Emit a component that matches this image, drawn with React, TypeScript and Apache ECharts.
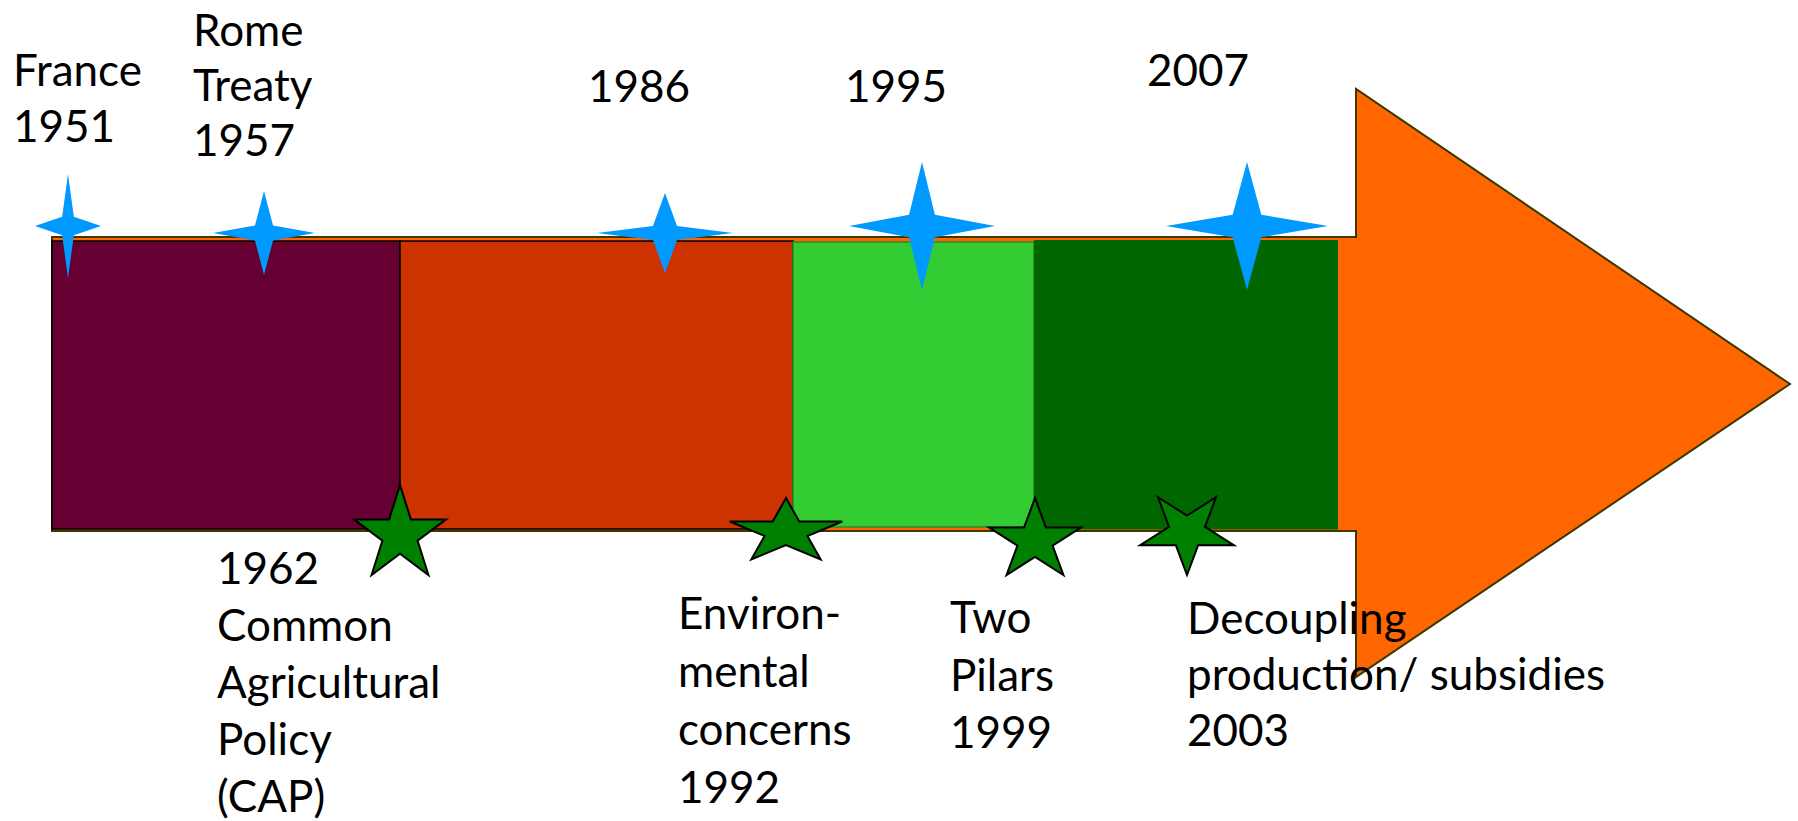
import React, { useEffect, useRef } from "react";
import * as echarts from "echarts";

// Drawing area in timeline units (hidden linear axes, 1 unit = 1 px)
const AXIS_W = 1798;
const AXIS_H = 821;

// Arrow outline: tail, neck, tip (x) and head top, body top, centre, body bottom, head bottom (y)
const arrowXs = [52, 1356, 1790];
const arrowYs = [89, 237, 384, 531, 677];

// CAP phases along the arrow
const phaseNames = ["1951-1962", "1962-1992", "1992-1999", "1999-2007"];
const phaseStart = [52, 400, 793, 1034];
const phaseEnd = [400, 793, 1034, 1338];
const phaseTop = [241, 241, 242, 240];
const phaseBottom = [529, 529, 527, 529.5];

// Top events (blue four-point stars)
const topLabels = ["France\n1951", "Rome\nTreaty\n1957", "1986", "1995", "2007"];
const topX = [68, 264, 665, 922, 1247];
const topY = [226, 233, 233, 226, 226];
const topHalfW = [33, 51, 68, 73, 81];
const topHalfH = [52, 42, 40, 64, 64];
const topLabelX = [13, 193, 588, 845, 1147];
const topLabelBaseline = [85, 45, 101, 101, 85];
const topLabelStep = [56, 55, 57, 57, 57];

// Bottom events (green five-point stars)
const bottomLabels = [
  "1962\nCommon\nAgricultural\nPolicy\n(CAP)",
  "Environ-\nmental\nconcerns\n1992",
  "Two\nPilars\n1999",
  "Decoupling\nproduction/ subsidies\n2003",
];
const bottomX = [400, 786, 1035, 1187];
const bottomY = [534.75, 532, 540.6, 532];
const bottomRx = [48.4, 59, 48.4, 49.4];
const bottomRy = [49.75, 34, 42.6, 43];
const bottomInverted = [0, 0, 0, 1];
const bottomLabelX = [217, 678, 950, 1187];
const bottomLabelBaseline = [583, 628, 632, 633];
const bottomLabelStep = [57, 58, 57.5, 56];

const phaseColors = ["#660033", "#CC3300", "#33CC33", "#006600"];
const phaseStrokes = ["#000000", "#000000", "#2a8a2a", null];
const FONT = "Lato";
const FONT_SIZE = 44;
const BASELINE_OFFSET = FONT_SIZE / 2 + 0.36 * FONT_SIZE;

export default function App() {
  const ref = useRef<HTMLDivElement>(null);

  useEffect(() => {
    document.body.style.margin = "0";
    if (!ref.current) return;
    const chart = echarts.init(ref.current, undefined, { renderer: "svg" });

    const arrowData = [[arrowXs[0], arrowYs[2]]];
    const phaseData = phaseNames.map((n, i) => [phaseStart[i], phaseEnd[i], phaseTop[i], phaseBottom[i], i]);
    const topStarData = topX.map((x, i) => [x, topY[i], topHalfW[i], topHalfH[i]]);
    const bottomStarData = bottomX.map((x, i) => [x, bottomY[i], bottomRx[i], bottomRy[i], bottomInverted[i]]);
    const labelData: any[] = [
      ...topLabels.map((t, i) => ({ value: [topLabelX[i], topLabelBaseline[i], topLabelStep[i]], text: t })),
      ...bottomLabels.map((t, i) => ({ value: [bottomLabelX[i], bottomLabelBaseline[i], bottomLabelStep[i]], text: t })),
    ];

    chart.setOption({
      animation: false,
      backgroundColor: "#ffffff",
      grid: { left: 0, right: 0, top: 0, bottom: 0 },
      xAxis: { type: "value", min: 0, max: AXIS_W, show: false },
      yAxis: { type: "value", min: 0, max: AXIS_H, inverse: true, show: false },
      series: [
        {
          type: "custom",
          name: "arrow",
          z: 1,
          clip: false,
          data: arrowData,
          renderItem: (_p: any, api: any) => {
            const [tail, neck, tip] = arrowXs;
            const [hTop, bTop, mid, bBot, hBot] = arrowYs;
            const pts = [
              [tail, bTop], [neck, bTop], [neck, hTop], [tip, mid],
              [neck, hBot], [neck, bBot], [tail, bBot],
            ].map((p) => api.coord(p));
            return {
              type: "polygon",
              shape: { points: pts },
              style: { fill: "#FF6600", stroke: "#3d3800", lineWidth: 2 },
            };
          },
        },
        {
          type: "custom",
          name: "phases",
          z: 2,
          clip: false,
          data: phaseData,
          renderItem: (_p: any, api: any) => {
            const i = api.value(4);
            const a = api.coord([api.value(0), api.value(2)]);
            const b = api.coord([api.value(1), api.value(3)]);
            const stroke = phaseStrokes[i];
            return {
              type: "rect",
              shape: { x: a[0], y: a[1], width: b[0] - a[0], height: b[1] - a[1] },
              style: {
                fill: phaseColors[i],
                stroke: stroke || undefined,
                lineWidth: stroke ? 1.6 : 0,
              },
            };
          },
        },
        {
          type: "custom",
          name: "top events",
          z: 3,
          clip: false,
          data: topStarData,
          renderItem: (_p: any, api: any) => {
            const cx = api.value(0), cy = api.value(1), hw = api.value(2), hh = api.value(3);
            const s = 0.177;
            const pts = [
              [cx, cy - hh], [cx + s * hw, cy - s * hh], [cx + hw, cy], [cx + s * hw, cy + s * hh],
              [cx, cy + hh], [cx - s * hw, cy + s * hh], [cx - hw, cy], [cx - s * hw, cy - s * hh],
            ].map((p) => api.coord(p));
            return { type: "polygon", shape: { points: pts }, style: { fill: "#0099FF" } };
          },
        },
        {
          type: "custom",
          name: "bottom events",
          z: 4,
          clip: false,
          data: bottomStarData,
          renderItem: (_p: any, api: any) => {
            const cx = api.value(0), cy = api.value(1), rx = api.value(2), ry = api.value(3);
            const start = api.value(4) ? 90 : -90;
            const pts: number[][] = [];
            for (let k = 0; k < 10; k++) {
              const ang = ((start + 36 * k) * Math.PI) / 180;
              const r = k % 2 === 0 ? 1 : 0.382;
              pts.push(api.coord([cx + rx * r * Math.cos(ang), cy + ry * r * Math.sin(ang)]));
            }
            return {
              type: "polygon",
              shape: { points: pts },
              style: { fill: "#008000", stroke: "#000000", lineWidth: 2, lineJoin: "miter" },
            };
          },
        },
        {
          type: "custom",
          name: "labels",
          z: 5,
          clip: false,
          data: labelData,
          renderItem: (p: any, api: any) => {
            const item = labelData[p.dataIndex];
            const lines: string[] = item.text.split("\n");
            const step = api.value(2);
            const children = lines.map((line, li) => {
              const pt = api.coord([api.value(0), api.value(1) + li * step - BASELINE_OFFSET]);
              return {
                type: "text",
                x: pt[0],
                y: pt[1],
                style: {
                  text: line,
                  fill: "#000000",
                  fontFamily: FONT,
                  fontSize: FONT_SIZE,
                  lineHeight: FONT_SIZE,
                  align: "left",
                  verticalAlign: "top",
                },
              };
            });
            return { type: "group", children };
          },
        },
      ],
    });

    return () => chart.dispose();
  }, []);

  return <div ref={ref} style={{ width: 1798, height: 821, overflow: "hidden" }} />;
}
